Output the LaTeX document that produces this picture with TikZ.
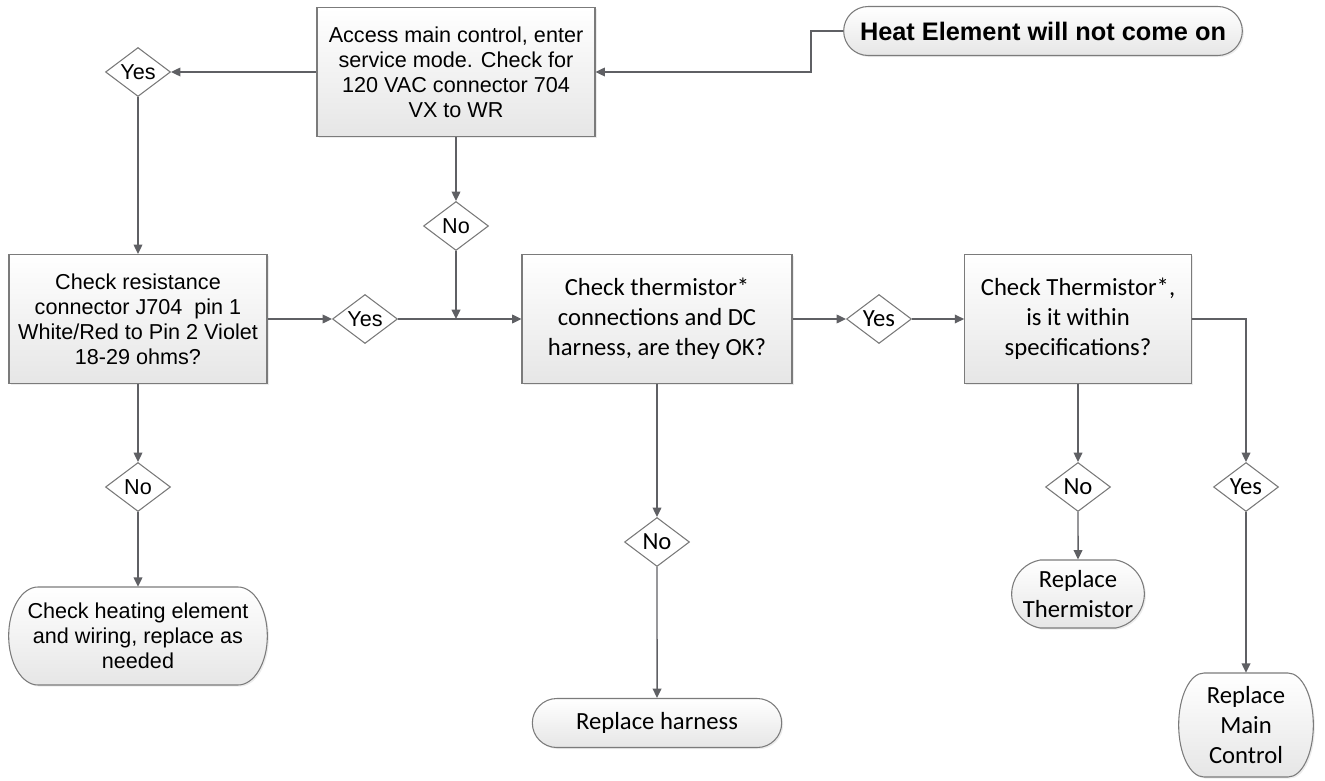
\documentclass[tikz,border=0pt]{standalone}
\usepackage{fontspec}
\setmainfont{Liberation Sans}
\newfontfamily\carlito{Carlito}
\usetikzlibrary{arrows.meta,shapes.geometric,shapes.misc,shadows}
\definecolor{wire}{HTML}{5F6064}
\definecolor{rim}{HTML}{7B7B7B}
\definecolor{shade}{HTML}{E6E6E6}

\begin{document}
\begin{tikzpicture}[x=0.75pt,y=-0.75pt,
  arr/.style={-{Triangle[length=7pt,width=6.5pt]},wire,line width=1.1pt},
  look/.style={draw=rim,line width=0.8pt,top color=white,bottom color=shade,
    drop shadow={shadow xshift=1.2pt,shadow yshift=-1.2pt,opacity=0.15}},
  box/.style={look,align=center,inner sep=2pt,minimum height=96.75pt},
  term/.style={rounded rectangle,look,align=center,inner sep=2pt},
  oval/.style={align=center,inner sep=2pt},
  dec/.style={diamond,draw=rim,line width=0.8pt,fill=white,aspect=1.33,inner sep=0pt,
    minimum width=48.75pt,minimum height=36.75pt},
  ar/.style={font=\fontsize{16.2}{18.75}\selectfont},
  ca/.style={font=\carlito\fontsize{18.5}{22.5}\selectfont}]
\useasboundingbox (0,0) rectangle (1325,781);
% top row
\node[term,font=\bfseries\fontsize{19}{22}\selectfont,minimum width=303pt,minimum height=36.75pt] (st) at (1043,31) {Heat Element will not come on};
\node[box,ar,minimum width=208.5pt] (a) at (456,72) {Access main control, enter\\service mode. Check for\\120 VAC connector 704\\VX to WR};
\node[dec,ar] (y1) at (138,72) {Yes};
\node[dec,ar] (n1) at (456,226) {No};
% middle row
\node[box,ar,minimum width=193.5pt] (b) at (138,319) {Check resistance\\connector J704\ \ pin 1\\White/Red to Pin 2 Violet\\18-29 ohms?};
\node[dec,ar] (y2) at (365,319) {Yes};
\node[box,ca,minimum width=202.5pt] (c) at (657,319) {Check thermistor*\\connections and DC\\harness, are they OK?};
\node[dec,ca] (y3) at (879,319) {Yes};
\node[box,ca,minimum width=170pt] (d) at (1078,319) {Check Thermistor*,\\is it within\\specifications?};
\coordinate (j) at (456,319);
% lower part
\node[dec,ar] (n7) at (138,487) {No};
\path[look] (38,587) -- (238,587) arc[start angle=90,end angle=-90,x radius=22pt,y radius=36.75pt]
  -- (38,685) arc[start angle=270,end angle=90,x radius=22pt,y radius=36.75pt] -- cycle;
\node[oval,ar,minimum width=195pt,minimum height=73.5pt] (ch) at (138,636) {Check heating element\\and wiring, replace as\\needed};
\node[dec,ca] (n6) at (657,542) {No};
\node[term,ca,minimum width=191pt,minimum height=36.75pt] (rh) at (657,723) {Replace harness};
\node[dec,ca] (n4) at (1078,487) {No};
\node[term,ca,minimum width=103.5pt,minimum height=51pt,rounded rectangle arc length=160] (rt) at (1078,594) {Replace\\Thermistor};
\node[dec,ca] (y5) at (1246,487) {Yes};
\path[look] (1204,673) -- (1288,673) arc[start angle=90,end angle=-90,x radius=19pt,y radius=39pt]
  -- (1204,777) arc[start angle=270,end angle=90,x radius=19pt,y radius=39pt] -- cycle;
\node[oval,ca,minimum width=101pt,minimum height=78pt] (rm) at (1246,725) {Replace\\Main\\Control};
% connectors
\draw[arr] (st.west) -- ++(-32,0) |- (a.east);
\draw[arr] (n1.south) -- (j);
\draw[arr] (d.east) -| (y5.north);
\foreach \x/\y in {a/y1,y1/b,a/n1,b/y2,y2/c,c/y3,y3/d} {\draw[arr] (\x) -- (\y);}
\foreach \x/\y in {b/n7,n7/ch,c/n6,n6/rh,d/n4,n4/rt,y5/rm} {\draw[arr] (\x) -- (\y);}
\end{tikzpicture}
\end{document}
